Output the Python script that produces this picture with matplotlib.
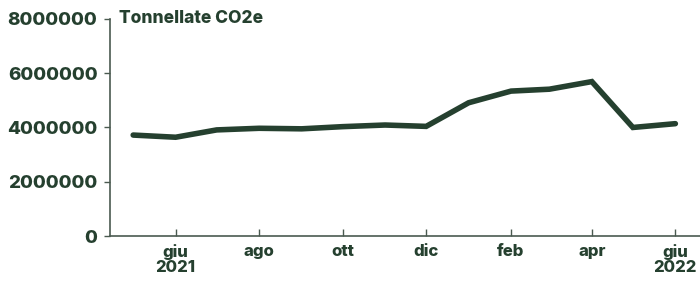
import matplotlib
matplotlib.use("Agg")
import matplotlib.pyplot as plt
import matplotlib.dates as mdates
import numpy as np
from datetime import date

# monthly emissions, May 2021 - June 2022
months = ["2021-05", "2021-06", "2021-07", "2021-08", "2021-09", "2021-10", "2021-11",
          "2021-12", "2022-01", "2022-02", "2022-03", "2022-04", "2022-05", "2022-06"]
tonnes = [3720000, 3640000, 3910000, 3970000, 3950000, 4030000, 4090000,
          4040000, 4910000, 5340000, 5410000, 5690000, 4000000, 4140000]

tick_months = ["2021-06", "2021-08", "2021-10", "2021-12", "2022-02", "2022-04", "2022-06"]
tick_labels = ["giu\n2021", "ago", "ott", "dic", "feb", "apr", "giu\n2022"]
y_ticks = [0, 2000000, 4000000, 6000000, 8000000]

GREEN = "#25402f"
AXIS = "#4a5a50"

plt.rcParams["font.family"] = ["Inter", "DejaVu Sans"]
plt.rcParams["font.weight"] = "heavy"


def to_date(s):
    y, m = s.split("-")
    return date(int(y), int(m), 1)


x = [to_date(m) for m in months]

fig = plt.figure(figsize=(7.0, 2.82), dpi=100)
ax = fig.add_axes([0.157, 0.163, 0.843, 0.770])

ax.plot(x, tonnes, color=GREEN, linewidth=4.0, solid_capstyle="round", solid_joinstyle="miter")

ax.set_ylim(0, 8000000)
ax.set_yticks(y_ticks)
ax.set_yticklabels([str(v) for v in y_ticks])
ax.set_xlim(date(2021, 4, 14), date(2022, 6, 19))
ax.set_xticks([to_date(m) for m in tick_months])
ax.set_xticklabels(tick_labels, linespacing=0.95)

for side in ["top", "right"]:
    ax.spines[side].set_visible(False)
for side in ["left", "bottom"]:
    ax.spines[side].set_color(AXIS)
    ax.spines[side].set_linewidth(1.2)

ax.tick_params(axis="y", direction="out", length=4, width=1, color=AXIS,
               labelsize=13.5, labelcolor=GREEN, pad=5)
ax.tick_params(axis="x", direction="in", length=5, width=1, color=AXIS,
               labelsize=12, labelcolor=GREEN, pad=6)

ax.text(0.015, 1.0, "Tonnellate CO2e", transform=ax.transAxes, ha="left", va="center",
        fontsize=12.5, fontweight="heavy", color=GREEN)

fig.savefig("out.png", dpi=100)
